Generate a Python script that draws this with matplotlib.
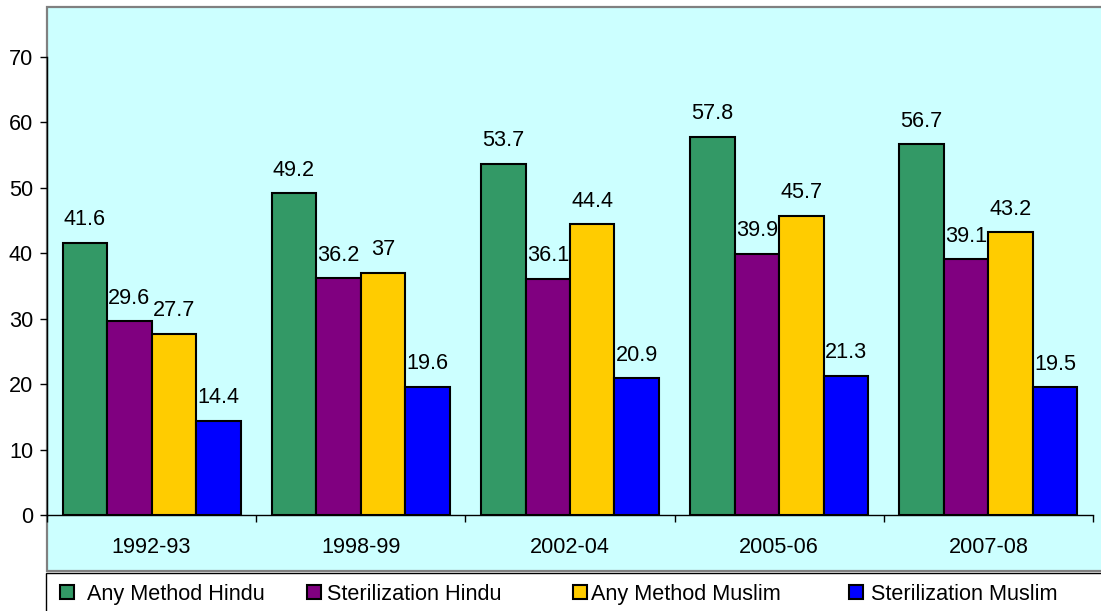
import matplotlib.pyplot as plt
from matplotlib.lines import Line2D
from matplotlib.patches import Rectangle
import numpy as np

# Data
periods = ["1992-93", "1998-99", "2002-04", "2005-06", "2007-08"]
any_hindu = [41.6, 49.2, 53.7, 57.8, 56.7]
steril_hindu = [29.6, 36.2, 36.1, 39.9, 39.1]
any_muslim = [27.7, 37, 44.4, 45.7, 43.2]
steril_muslim = [14.4, 19.6, 20.9, 21.3, 19.5]

series_names = ["Any Method Hindu", "Sterilization Hindu",
                "Any Method Muslim", "Sterilization Muslim"]
colors = ["#339966", "#800080", "#FFCC00", "#0000FF"]

plt.rcParams['font.family'] = ['Liberation Sans', 'DejaVu Sans']
FS = 15.6

fig = plt.figure(figsize=(11.01, 6.11), dpi=100)
W, H = 1101, 611

# cyan plot area with grey border
fig.patches.append(Rectangle((47 / W, 1 - 571 / H), 1.1, 564 / H,
                             transform=fig.transFigure, facecolor="#CCFFFF",
                             edgecolor="#808080", linewidth=1.6, zorder=-2))
# legend frame
fig.patches.append(Rectangle((45.5 / W, -0.1), 1.1, (0.1 + 1 - 573 / H),
                             transform=fig.transFigure, facecolor="white",
                             edgecolor="black", linewidth=1.0, zorder=-2))

ax = fig.add_axes([47 / W, 1 - 515 / H, (1093 - 47) / W, (515 - 57) / H])
ax.patch.set_alpha(0)

x = np.arange(len(periods))
width = 0.2127
all_series = [any_hindu, steril_hindu, any_muslim, steril_muslim]
for i, (vals, col) in enumerate(zip(all_series, colors)):
    pos = x + (i - 1.5) * width
    ax.bar(pos, vals, width, color=col, edgecolor="black", linewidth=1.5,
           zorder=2)
    for px, v in zip(pos, vals):
        ax.annotate(f"{v:g}", (px, v), xytext=(0, 9), textcoords="offset points",
                    ha="center", va="bottom", fontsize=FS, zorder=3)

ax.set_xlim(-0.5, len(periods) - 0.5)
ax.set_ylim(0, 70)
ax.set_yticks(range(0, 71, 10))
ax.set_xticks(np.arange(-0.5, len(periods), 1.0))
ax.set_xticklabels([])
ax.set_xticks(x, minor=True)
ax.set_xticklabels(periods, minor=True)
ax.tick_params(axis="x", which="major", length=5, direction="out", width=1)
ax.tick_params(axis="x", which="minor", length=0, pad=16, labelsize=FS)
ax.tick_params(axis="y", length=5, width=1, pad=5, labelsize=FS)
for s in ["top", "right"]:
    ax.spines[s].set_visible(False)
for s in ["left", "bottom"]:
    ax.spines[s].set_color("black")
    ax.spines[s].set_linewidth(1.0)

# legend entries, spaced like the original
marker_x = [66.5, 314, 580, 855.5]
text_x = [87, 327, 591, 871]
leg_y = 1 - 592 / H
for mx, tx, name, col in zip(marker_x, text_x, series_names, colors):
    fig.add_artist(Line2D([mx / W], [leg_y], transform=fig.transFigure,
                          marker="s", ls="", markersize=9.5,
                          markerfacecolor=col, markeredgecolor="black",
                          markeredgewidth=1.5))
    fig.text(tx / W, leg_y, name, fontsize=FS, ha="left", va="center_baseline")

fig.savefig("out.png", dpi=100)
